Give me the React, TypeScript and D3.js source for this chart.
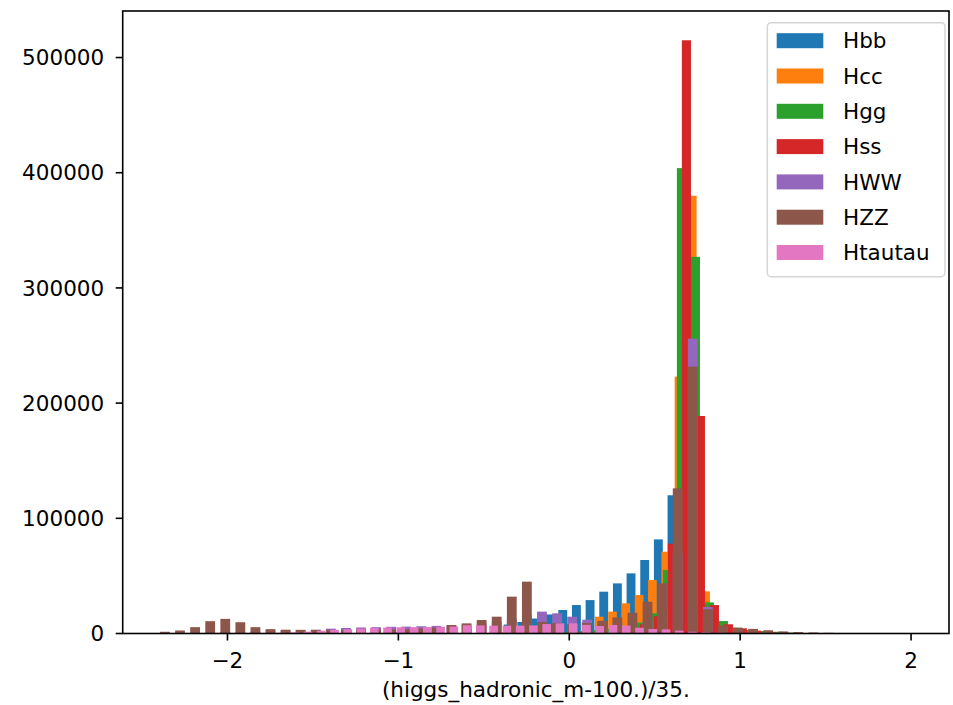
import React from "react";
import * as d3 from "d3";

// ---------- data ----------
const SERIES_NAMES = ["Hbb", "Hcc", "Hgg", "Hss", "HWW", "HZZ", "Htautau"];

// first bin centre and bin width (x units) of each histogram, then its counts
const HBB_FIRST = -0.9968;
const HBB_WIDTH = 0.0799;
const HBB_COUNTS = [1000, 1400, 1900, 2500, 3200, 4000, 5000, 6200, 7800, 10000, 13000, 16500, 20400, 24700, 29000, 36300, 43500, 52200, 63800, 81700, 120000, 200000, 40000, 8000, 3000, 1500, 800, 500, 300, 200, 100, 100, 50, 50];

const HCC_FIRST = -0.7583;
const HCC_WIDTH = 0.0778;
const HCC_COUNTS = [100, 200, 300, 500, 800, 1200, 1800, 2500, 3500, 5000, 7000, 10000, 14600, 19000, 26200, 33400, 46400, 71000, 223000, 380000, 36600, 10000, 5000, 3000, 2000, 1200, 800, 500, 300, 200, 100, 50];

const HGG_FIRST = -0.4903;
const HGG_WIDTH = 0.0819;
const HGG_COUNTS = [100, 200, 300, 500, 700, 1000, 1500, 2000, 3000, 4000, 6000, 9400, 17500, 55000, 404000, 327000, 27000, 10800, 5000, 3000, 2000, 1500, 800, 400, 200, 100];

const HSS_FIRST = -0.3792;
const HSS_WIDTH = 0.0819;
const HSS_COUNTS = [100, 150, 250, 350, 500, 800, 1200, 2000, 3000, 5000, 8000, 15000, 78000, 515000, 188800, 24700, 8000, 4500, 2500, 1500, 800, 500, 300, 150, 80];

const HWW_FIRST = -2.3658;
const HWW_WIDTH = 0.08824;
const HWW_COUNTS = [200, 400, 700, 1000, 1300, 1600, 1900, 2200, 2500, 2900, 3300, 4200, 4800, 5200, 5500, 5800, 6000, 6300, 6600, 7000, 7800, 9000, 10500, 13000, 16000, 19000, 17500, 14600, 12000, 10000, 9000, 9500, 11000, 18000, 70000, 256000, 23000, 6000, 3000, 1800, 1200, 800, 500, 300, 200, 100, 100, 50, 50, 0];

const HZZ_FIRST = -2.3658;
const HZZ_WIDTH = 0.08824;
const HZZ_COUNTS = [1500, 2600, 5500, 10700, 12700, 9800, 5500, 3800, 3300, 3200, 3100, 3100, 3100, 3200, 3300, 3500, 3700, 4200, 5000, 7400, 8800, 11700, 14600, 32000, 45000, 10000, 9000, 8000, 9000, 11000, 14000, 18000, 27600, 43500, 126000, 231600, 21000, 7000, 5000, 4000, 2800, 1800, 1200, 900, 600, 400, 200, 100, 50, 50];

const HTAUTAU_FIRST = -1.9946;
const HTAUTAU_WIDTH = 0.0776;
const HTAUTAU_COUNTS = [100, 200, 300, 400, 600, 1000, 1600, 2400, 3200, 3700, 4200, 4800, 5200, 5400, 5500, 5600, 5800, 6000, 7200, 7000, 6800, 6800, 6800, 7000, 8200, 8800, 8800, 7500, 6500, 7400, 6900, 5000, 3900, 3600, 2500, 1500, 1000, 600, 400, 300, 200, 100, 100, 100, 50, 50, 50, 0, 0, 0];

const X_TICKS = [-2, -1, 0, 1, 2];
const Y_TICKS = [0, 100000, 200000, 300000, 400000, 500000];
const X_LABEL = "(higgs_hadronic_m-100.)/35.";

// ---------- styles ----------
const COLORS = ["#1f77b4", "#ff7f0e", "#2ca02c", "#d62728", "#9467bd", "#8c564b", "#e377c2"];
const FONT = "'DejaVu Sans', sans-serif";
const FS = 21.5;
const RWIDTH = 0.65;

const W = 953;
const H = 705;
const PLOT = { left: 122.7, right: 949, top: 11, bottom: 633.5 };

export default function App() {
  const series = [
    { first: HBB_FIRST, width: HBB_WIDTH, counts: HBB_COUNTS },
    { first: HCC_FIRST, width: HCC_WIDTH, counts: HCC_COUNTS },
    { first: HGG_FIRST, width: HGG_WIDTH, counts: HGG_COUNTS },
    { first: HSS_FIRST, width: HSS_WIDTH, counts: HSS_COUNTS },
    { first: HWW_FIRST, width: HWW_WIDTH, counts: HWW_COUNTS },
    { first: HZZ_FIRST, width: HZZ_WIDTH, counts: HZZ_COUNTS },
    { first: HTAUTAU_FIRST, width: HTAUTAU_WIDTH, counts: HTAUTAU_COUNTS },
  ];

  const x = d3.scaleLinear().domain([-2.613, 2.222]).range([PLOT.left, PLOT.right]);
  const y = d3.scaleLinear().domain([0, 540400]).range([PLOT.bottom, PLOT.top]);

  const tickLen = 7;
  const lw = 1.6;

  const legendX = 767.3;
  const legendY = 22.7;
  const legendW = 177.7;
  const legendH = 254;
  const rowY0 = 40.7;
  const rowStep = 35.3;

  return (
    <svg
      width={W}
      height={H}
      style={{ position: "absolute", left: 0, top: 0, background: "#fff" }}
      fontFamily={FONT}
    >
      <rect x={0} y={0} width={W} height={H} fill="#fff" />
      <g>
        {series.map((s, si) => (
          <g key={si} fill={COLORS[si]}>
            {s.counts.map((c, i) => {
              if (c <= 0) return null;
              const centre = s.first + i * s.width;
              const half = (s.width * RWIDTH) / 2;
              const x0 = x(centre - half);
              const x1 = x(centre + half);
              return (
                <rect
                  key={i}
                  x={x0}
                  y={y(c)}
                  width={x1 - x0}
                  height={y(0) - y(c)}
                />
              );
            })}
          </g>
        ))}
      </g>

      {/* frame */}
      <rect
        x={PLOT.left}
        y={PLOT.top}
        width={PLOT.right - PLOT.left}
        height={PLOT.bottom - PLOT.top}
        fill="none"
        stroke="#000"
        strokeWidth={lw}
      />

      {/* x ticks */}
      {X_TICKS.map((t) => (
        <g key={"x" + t}>
          <line x1={x(t)} x2={x(t)} y1={PLOT.bottom} y2={PLOT.bottom + tickLen} stroke="#000" strokeWidth={lw} />
          <text x={x(t)} y={PLOT.bottom + 34} textAnchor="middle" fontSize={FS} fill="#000">
            {t < 0 ? "\u2212" + Math.abs(t) : String(t)}
          </text>
        </g>
      ))}

      {/* y ticks */}
      {Y_TICKS.map((t) => (
        <g key={"y" + t}>
          <line x1={PLOT.left - tickLen} x2={PLOT.left} y1={y(t)} y2={y(t)} stroke="#000" strokeWidth={lw} />
          <text x={PLOT.left - 18.5} y={y(t) + 7.7} textAnchor="end" fontSize={FS} fill="#000">
            {String(t)}
          </text>
        </g>
      ))}

      <text x={(PLOT.left + PLOT.right) / 2} y={697} textAnchor="middle" fontSize={FS} fill="#000">
        {X_LABEL}
      </text>

      {/* legend */}
      <rect
        x={legendX}
        y={legendY}
        width={legendW}
        height={legendH}
        rx={4}
        ry={4}
        fill="#fff"
        fillOpacity={0.8}
        stroke="#d6d6d6"
        strokeWidth={1.5}
      />
      {SERIES_NAMES.map((name, i) => (
        <g key={name}>
          <rect x={776.7} y={rowY0 + i * rowStep - 7.5} width={46.6} height={15} fill={COLORS[i]} />
          <text x={843} y={rowY0 + i * rowStep + 7.7} fontSize={FS} fill="#000">
            {name}
          </text>
        </g>
      ))}
    </svg>
  );
}
